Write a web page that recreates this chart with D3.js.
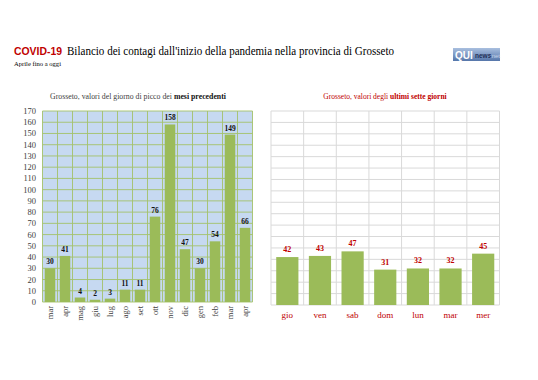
<!DOCTYPE html>
<html><head><meta charset="utf-8">
<script src="https://cdn.jsdelivr.net/npm/d3@7"></script>
<style>body{margin:0;background:#fff}svg{display:block}</style>
</head><body>
<svg id="c" width="538" height="380"></svg>
<script>
const monthLabels = ["mar","apr","mag","giu","lug","ago","set","ott","nov","dic","gen","feb","mar","apr"];
const monthValues = [30,41,4,2,3,11,11,76,158,47,30,54,149,66];
const dayLabels = ["gio","ven","sab","dom","lun","mar","mer"];
const dayValues = [42,43,47,31,32,32,45];
const yTicks = d3.range(0,171,10);

const svg = d3.select("#c");
const serif = "'Liberation Serif','DejaVu Serif',serif";
const sans = "'Liberation Sans','Open Sans',sans-serif";
const green = "#9bbb59", red = "#c00000";

// Title
svg.append("text").attr("x",14).attr("y",55).attr("font-size",11.5).attr("font-family",sans)
  .attr("font-weight","bold").attr("fill",red).attr("textLength",48).attr("lengthAdjust","spacingAndGlyphs").text("COVID-19");
svg.append("text").attr("x",67).attr("y",55).attr("font-size",12).attr("font-family",serif).attr("fill","#000")
  .attr("textLength",327).attr("lengthAdjust","spacingAndGlyphs")
  .text("Bilancio dei contagi dall'inizio della pandemia nella provincia di Grosseto");
svg.append("text").attr("x",14).attr("y",66).attr("font-size",7).attr("font-family",serif).attr("fill","#000")
  .attr("textLength",47).attr("lengthAdjust","spacingAndGlyphs").text("Aprile fino a oggi");

// Logo
const defs = svg.append("defs");
const lg = defs.append("linearGradient").attr("id","lg").attr("x1",0).attr("y1",0).attr("x2",0).attr("y2",1);
lg.append("stop").attr("offset","0").attr("stop-color","#a9bfdf");
lg.append("stop").attr("offset","1").attr("stop-color","#5576aa");
svg.append("rect").attr("x",453).attr("y",48).attr("width",47).attr("height",13).attr("fill","url(#lg)");
svg.append("text").attr("x",455).attr("y",58.5).attr("font-family",sans).attr("font-size",10)
  .attr("font-weight","bold").attr("fill","#fff").text("QUI");
svg.append("text").attr("x",475).attr("y",58).attr("font-family",sans).attr("font-size",6.5)
  .attr("font-weight","bold").attr("fill","#1f2f55").text("news");
svg.append("text").attr("x",490).attr("y",58).attr("font-family",sans).attr("font-size",6)
  .attr("fill","#c8d4ea").text(".net");

// Left chart
const L = {x0:42.5, x1:252.5, y0:111, y1:302};
const xL = d3.scaleBand().domain(d3.range(monthValues.length)).range([L.x0,L.x1]).paddingInner(0.3).paddingOuter(0.15);
const xLgrid = d3.scaleLinear().domain([0,monthValues.length]).range([L.x0,L.x1]);
const yL = d3.scaleLinear().domain([0,170]).range([L.y1,L.y0]);
const gl = svg.append("g");
gl.append("rect").attr("x",L.x0).attr("y",L.y0).attr("width",L.x1-L.x0).attr("height",L.y1-L.y0).attr("fill","#c6d9f1");
gl.selectAll("line.h").data(yTicks).join("line").attr("x1",L.x0).attr("x2",L.x1)
  .attr("y1",d=>yL(d)).attr("y2",d=>yL(d)).attr("stroke","#a4c26a").attr("stroke-width",0.9);
gl.selectAll("line.v").data(d3.range(monthValues.length+1)).join("line").attr("y1",L.y0).attr("y2",L.y1)
  .attr("x1",d=>xLgrid(d)).attr("x2",d=>xLgrid(d)).attr("stroke","#a4c26a").attr("stroke-width",0.9);
gl.selectAll("rect.bar").data(monthValues).join("rect").attr("x",(d,i)=>xL(i)).attr("width",xL.bandwidth())
  .attr("y",d=>yL(d)).attr("height",d=>yL(0)-yL(d)).attr("fill",green);
gl.selectAll("text.val").data(monthValues).join("text").attr("x",(d,i)=>xL(i)+xL.bandwidth()/2).attr("y",d=>yL(d)-4)
  .attr("text-anchor","middle").attr("font-family",serif).attr("font-weight","bold").attr("font-size",7.5).attr("fill","#111").text(d=>d);
gl.selectAll("text.yt").data(yTicks).join("text").attr("x",36).attr("y",d=>yL(d)+3)
  .attr("text-anchor","end").attr("font-family",serif).attr("font-size",8.5).attr("fill","#404040").text(d=>d);
gl.selectAll("text.xt").data(monthLabels).join("text")
  .attr("transform",(d,i)=>`translate(${xL(i)+xL.bandwidth()/2+3},${L.y1+4}) rotate(-90)`)
  .attr("text-anchor","end").attr("font-family",serif).attr("font-size",8.5).attr("fill","#404040").text(d=>d);
const tl = gl.append("text").attr("x",138).attr("y",99).attr("text-anchor","middle").attr("font-family",serif).attr("font-size",7.8).attr("fill","#404040");
tl.append("tspan").text("Grosseto, valori del giorno di picco dei ");
tl.append("tspan").attr("font-weight","bold").attr("fill","#111").text("mesi precedenti");

// Right chart
const R = {x0:271, x1:499.5, y0:111, y1:305};
const xR = d3.scaleBand().domain(d3.range(dayValues.length)).range([R.x0,R.x1]).paddingInner(0.32).paddingOuter(0.16);
const xRgrid = d3.scaleLinear().domain([0,dayValues.length]).range([R.x0,R.x1]);
const yR = d3.scaleLinear().domain([0,170]).range([R.y1,R.y0]);
const gr = svg.append("g");
gr.selectAll("line.h").data(yTicks).join("line").attr("x1",R.x0).attr("x2",R.x1)
  .attr("y1",d=>yR(d)).attr("y2",d=>yR(d)).attr("stroke","#d9d9d9").attr("stroke-width",1);
gr.selectAll("line.v").data(d3.range(dayValues.length+1)).join("line").attr("y1",R.y0).attr("y2",R.y1)
  .attr("x1",d=>xRgrid(d)).attr("x2",d=>xRgrid(d)).attr("stroke","#d9d9d9").attr("stroke-width",1);
gr.selectAll("rect.bar").data(dayValues).join("rect").attr("x",(d,i)=>xR(i)).attr("width",xR.bandwidth())
  .attr("y",d=>yR(d)).attr("height",d=>yR(0)-yR(d)).attr("fill",green);
gr.selectAll("text.val").data(dayValues).join("text").attr("x",(d,i)=>xR(i)+xR.bandwidth()/2).attr("y",d=>yR(d)-5)
  .attr("text-anchor","middle").attr("font-family",serif).attr("font-weight","bold").attr("font-size",8).attr("fill",red).text(d=>d);
gr.selectAll("text.xt").data(dayLabels).join("text").attr("x",(d,i)=>xR(i)+xR.bandwidth()/2).attr("y",R.y1+13)
  .attr("text-anchor","middle").attr("font-family",serif).attr("font-size",9).attr("fill",red).text(d=>d);
const tr = gr.append("text").attr("x",385).attr("y",99).attr("text-anchor","middle").attr("font-family",serif).attr("font-size",7.5).attr("fill",red);
tr.append("tspan").text("Grosseto, valori degli ");
tr.append("tspan").attr("font-weight","bold").text("ultimi sette giorni");
</script>
</body></html>
